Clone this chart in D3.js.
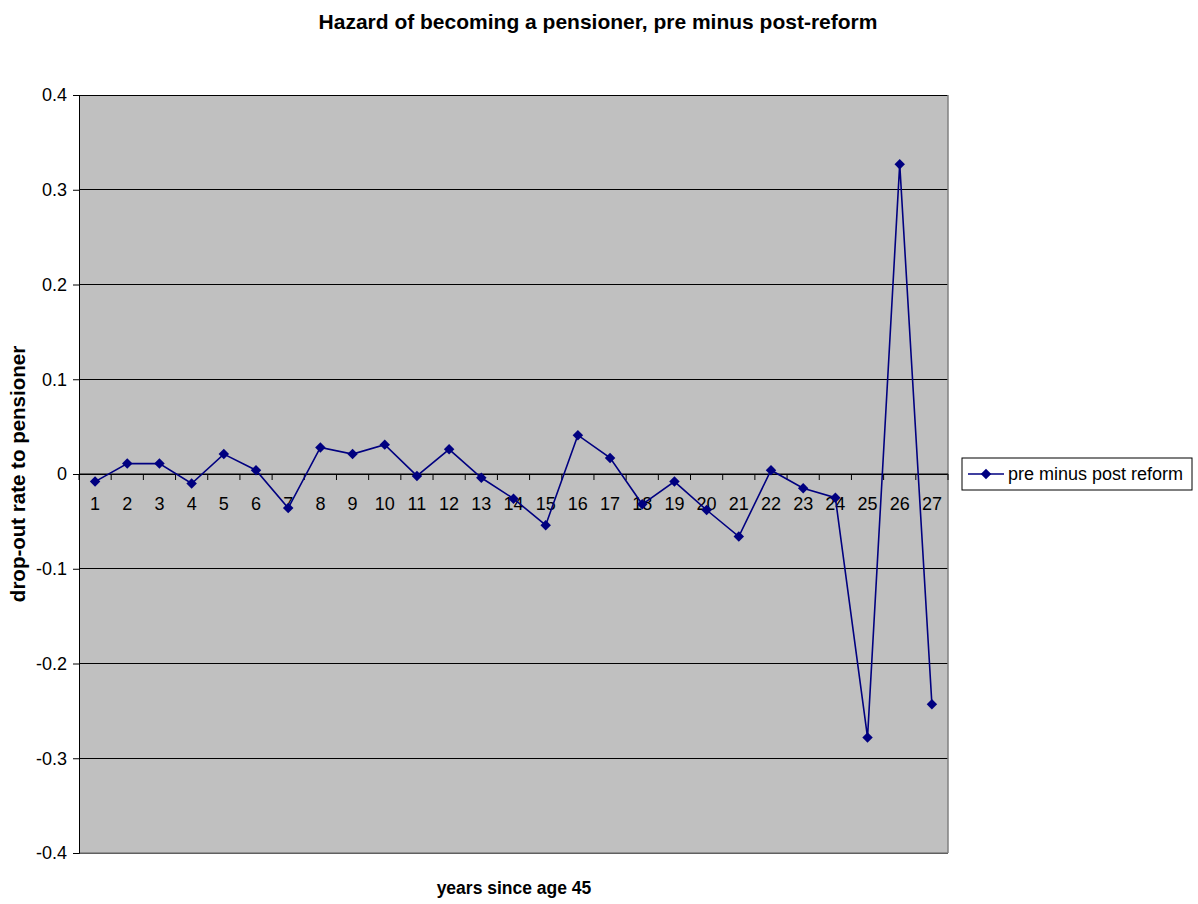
<!DOCTYPE html>
<html><head><meta charset="utf-8">
<script src="https://cdn.jsdelivr.net/npm/d3@7"></script>
<style>body{margin:0;background:#fff;} text{font-family:"Liberation Sans",Arial,sans-serif;}</style>
</head><body><svg id="c" width="1198" height="904"></svg>
<script>
const categories = d3.range(1, 28).map(String);
const values = [-0.008, 0.011, 0.011, -0.010, 0.021, 0.004, -0.036, 0.028, 0.021, 0.031,
  -0.002, 0.026, -0.004, -0.026, -0.054, 0.041, 0.017, -0.032, -0.008, -0.038,
  -0.066, 0.004, -0.015, -0.025, -0.278, 0.327, -0.243];
const yTicks = [-0.4, -0.3, -0.2, -0.1, 0, 0.1, 0.2, 0.3, 0.4];
const yTickLabels = ["-0.4", "-0.3", "-0.2", "-0.1", "0", "0.1", "0.2", "0.3", "0.4"];
const seriesName = "pre minus post reform";

const svg = d3.select("#c");
const L = 79, R = 948, T = 95, B = 853;
const x = d3.scaleBand().domain(categories).range([L, R]);
const y = d3.scaleLinear().domain([-0.4, 0.4]).range([B, T]);

svg.append("rect").attr("x", L).attr("y", T).attr("width", R - L).attr("height", B - T).attr("fill", "#c0c0c0");
svg.append("g").selectAll("line").data(yTicks).join("line")
  .attr("x1", L).attr("x2", R).attr("y1", d => y(d)).attr("y2", d => y(d))
  .attr("stroke", "#000").attr("stroke-width", 1).attr("shape-rendering", "crispEdges");
svg.append("line").attr("x1", R).attr("x2", R).attr("y1", T).attr("y2", B).attr("stroke", "#808080").attr("stroke-width", 1.5);
svg.append("line").attr("x1", L).attr("x2", R).attr("y1", B).attr("y2", B).attr("stroke", "#808080").attr("stroke-width", 1.5);

// Y axis
const yAxis = d3.axisLeft(y).tickValues(yTicks).tickSize(6).tickFormat((d, i) => yTickLabels[i]);
const ya = svg.append("g").attr("transform", `translate(${L},0)`).call(yAxis);
ya.select(".domain").attr("stroke", "#000");
ya.selectAll("text").attr("font-size", 18).attr("fill", "#000").attr("x", -12).attr("font-family", "Liberation Sans, Arial, sans-serif");

// X axis at zero
const xa = svg.append("g").attr("transform", `translate(0,${y(0)})`);
xa.append("line").attr("x1", L).attr("x2", R).attr("y1", 0).attr("y2", 0).attr("stroke", "#000");
const bounds = categories.map(c => x(c)).concat([R]);
xa.selectAll("line.tk").data(bounds).join("line").attr("class", "tk")
  .attr("x1", d => d).attr("x2", d => d).attr("y1", 0).attr("y2", 6).attr("stroke", "#000");
xa.selectAll("text").data(categories).join("text")
  .attr("x", d => x(d) + x.bandwidth() / 2).attr("y", 36).attr("text-anchor", "middle")
  .attr("font-size", 18).attr("fill", "#000").text(d => d);

// Line
const line = d3.line().x((d, i) => x(categories[i]) + x.bandwidth() / 2).y(d => y(d));
svg.append("path").datum(values).attr("d", line).attr("fill", "none").attr("stroke", "#000080").attr("stroke-width", 1.6);
svg.append("g").selectAll("path").data(values).join("path")
  .attr("d", d3.symbol().type(d3.symbolSquare).size(55))
  .attr("transform", (d, i) => `translate(${x(categories[i]) + x.bandwidth() / 2},${y(d)}) rotate(45)`)
  .attr("fill", "#000080");

// Title and labels
svg.append("text").attr("x", 598).attr("y", 29).attr("text-anchor", "middle").attr("font-size", 21).attr("font-weight", "bold").text("Hazard of becoming a pensioner, pre minus post-reform");
svg.append("text").attr("x", 514).attr("y", 894).attr("text-anchor", "middle").attr("font-size", 17.5).attr("font-weight", "bold").text("years since age 45");
svg.append("text").attr("transform", `translate(25,${y(0)}) rotate(-90)`).attr("text-anchor", "middle").attr("font-size", 20.5).attr("font-weight", "bold").text("drop-out rate to pensioner");

// Legend
const lg = svg.append("g").attr("transform", "translate(962,458)");
lg.append("rect").attr("width", 230).attr("height", 32).attr("fill", "#fff").attr("stroke", "#000").attr("stroke-width", 1);
lg.append("line").attr("x1", 6).attr("x2", 42).attr("y1", 16).attr("y2", 16).attr("stroke", "#000080").attr("stroke-width", 1.6);
lg.append("path").attr("transform", "translate(24,16) rotate(45)").attr("d", d3.symbol().type(d3.symbolSquare).size(55)).attr("fill", "#000080");
lg.append("text").attr("x", 46).attr("y", 22).attr("font-size", 18).text(seriesName);
</script></body></html>
